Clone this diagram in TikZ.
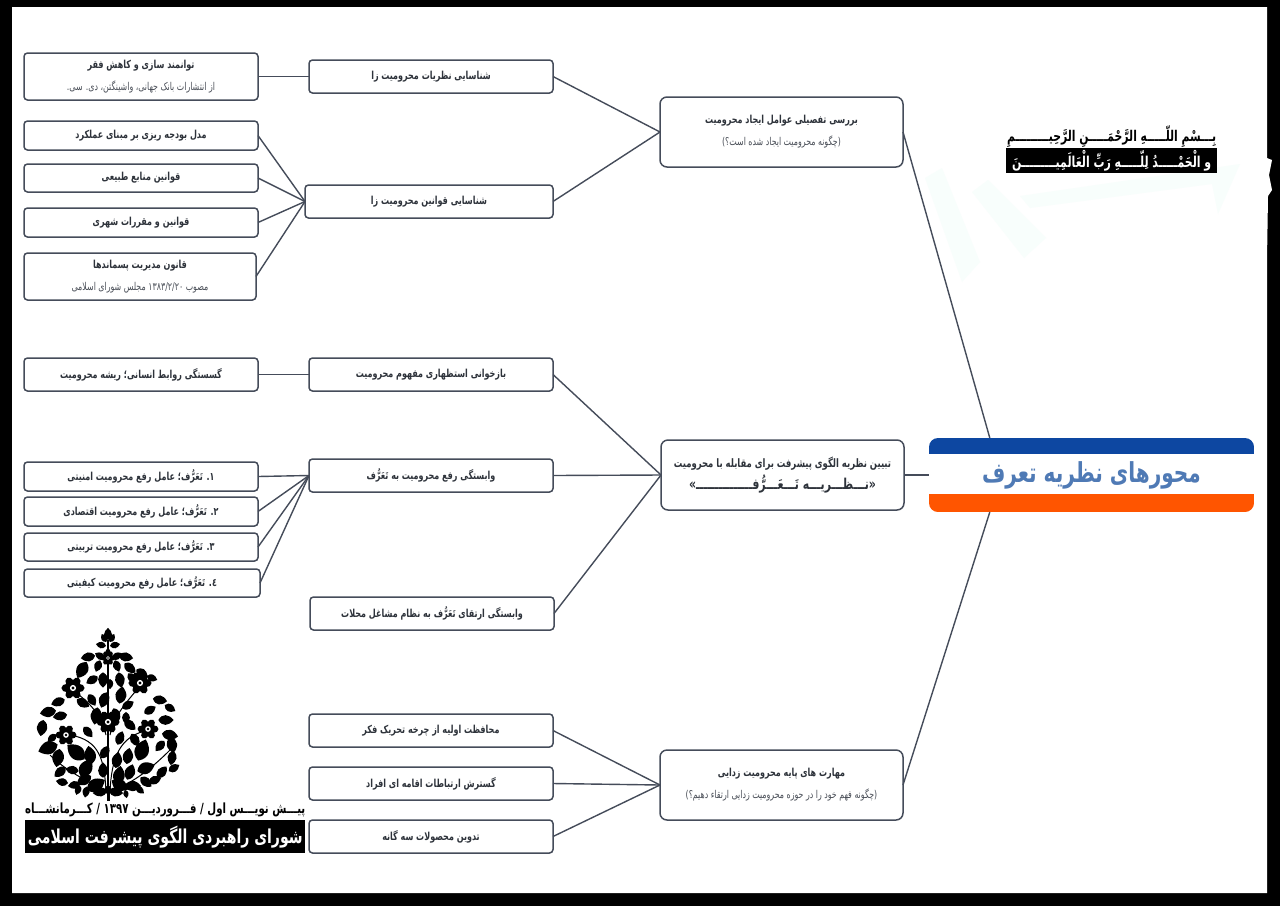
\documentclass[tikz,border=0pt]{standalone}
\usepackage{fontspec}
\usepackage{graphicx}
\setmainfont{DejaVu Sans}
\newfontfamily\fafont[Script=Arabic]{DejaVu Sans}
\TeXXeTstate=1
\newcommand\fa[1]{\scalebox{0.73}[1]{\beginR #1\endR}}
\newcommand\taf{تَعَرُّف}
\definecolor{ink}{HTML}{2E333B}
\definecolor{edgec}{HTML}{454C5A}
\definecolor{subc}{HTML}{4A4F58}
\definecolor{rootblue}{HTML}{0D47A1}
\definecolor{rootorange}{HTML}{FF5500}
\definecolor{roottext}{HTML}{4F7AB5}
\definecolor{wm}{HTML}{F8FEFC}
\newcommand\subl[1]{{\fontsize{10.8}{22}\selectfont\mdseries\color{subc}\fa{#1}}}
\tikzset{
  x=1pt,y=-1pt,
  box/.style={draw=edgec,line width=1.5pt,rounded corners=3.5pt,fill=white,inner sep=0pt,outer sep=0pt,
    font=\fafont\bfseries\fontsize{11}{22}\selectfont,text=ink,align=center,anchor=north west},
  bigbox/.style={box,rounded corners=7pt},
  link/.style={draw=edgec,line width=1.4pt},
}
\newcommand\bx[7][box]{\node[#1,minimum width=#4-#2,minimum height=#5-#3] (#6) at (#2,#3) {#7};}
\begin{document}
\begin{tikzpicture}
\useasboundingbox (0,0) rectangle (1280,906);
\fill[black] (0,0) rectangle (1280,906);
\fill[white] (12,7) -- (1267,7) -- (1267,158) -- (1272,160) -- (1269,175) -- (1272,190) -- (1268,196) -- (1267,260) -- (1267,893) -- (12,893) -- cycle;
% watermark
\fill[wm] (925,178) -- (942,168) -- (980,262) -- (962,282) -- cycle;
\fill[wm] (972,192) -- (988,180) -- (1046,238) -- (1024,258) -- cycle;
\fill[wm] (1020,196) -- (1240,164) -- (1218,214) -- (1212,184) -- (1030,208) -- cycle;

% nodes
\bx{24}{53}{258}{100}{a1}{\fa{توانمند سازی و کاهش فقر}\\\subl{از انتشارات بانک جهانی، واشینگتن، دی. سی.}}
\bx{24}{121}{258}{150}{a2}{\fa{مدل بودجه ریزی بر مبنای عملکرد}}
\bx{24}{164}{258}{192}{a3}{\fa{قوانین منابع طبیعی}}
\bx{24}{208}{258}{237}{a4}{\fa{قوانین و مقررات شهری}}
\bx{24}{253}{256}{300}{a5}{\fa{قانون مدیریت پسماندها}\\\subl{مصوب \beginL ۱۳۸۳/۲/۲۰\endL{} مجلس شورای اسلامی}}
\bx{309}{60}{553}{93}{m1}{\fa{شناسایی نظریات محرومیت زا}}
\bx{305}{185}{553}{218}{m2}{\fa{شناسایی قوانین محرومیت زا}}
\bx[bigbox]{660}{97}{903}{167}{r1}{\fa{بررسی تفصیلی عوامل ایجاد محرومیت}\\\subl{(چگونه محرومیت ایجاد شده است؟)}}
\bx{24}{358}{258}{391}{b1}{\fa{گسستگی روابط انسانی؛ ریشه محرومیت}}
\bx{309}{358}{553}{391}{m3}{\fa{بازخوانی استظهاری مفهوم محرومیت}}
\bx{24}{462}{258}{491}{b2}{\fa{۱. \taf؛ عامل رفع محرومیت امنیتی}}
\bx{24}{497}{258}{526}{b3}{\fa{۲. \taf؛ عامل رفع محرومیت اقتصادی}}
\bx{24}{533}{258}{561}{b4}{\fa{۳. \taf؛ عامل رفع محرومیت تربیتی}}
\bx{24}{569}{260}{597}{b5}{\fa{٤. \taf؛ عامل رفع محرومیت کیفیتی}}
\bx{309}{459}{553}{492}{m4}{\fa{وابستگی رفع محرومیت به \taf}}
\bx{310}{597}{554}{630}{m5}{\fa{وابستگی ارتقای \taf{} به نظام مشاغل محلات}}
\bx[bigbox]{661}{440}{904}{510}{r2}{{\fontsize{11.6}{22}\selectfont\fa{تبیین نظریه الگوی پیشرفت برای مقابله با محرومیت}}\\{\fontsize{15}{22}\selectfont\fa{«نـــظـــریـــه تَـــعَـــرُّفـــــــــــــــ»}}}
\bx{309}{714}{553}{747}{m6}{\fa{محافظت اولیه از چرخه تحریک فکر}}
\bx{309}{767}{553}{800}{m7}{\fa{گسترش ارتباطات اقامه ای افراد}}
\bx{309}{820}{553}{853}{m8}{\fa{تدوین محصولات سه گانه}}
\bx[bigbox]{660}{750}{903}{820}{r3}{\fa{مهارت های پایه محرومیت زدایی}\\\subl{(چگونه فهم خود را در حوزه محرومیت زدایی ارتقاء دهیم؟)}}
\node[draw=none,fill=white,rounded corners=9pt,inner sep=0pt,outer sep=0pt,anchor=north west,minimum width=325,minimum height=74,
  path picture={
    \fill[rootblue,sharp corners] (path picture bounding box.north west) rectangle ([yshift=-16pt]path picture bounding box.north east);
    \fill[rootorange,sharp corners] ([yshift=18pt]path picture bounding box.south west) rectangle (path picture bounding box.south east);
  },
  font=\fafont\bfseries\fontsize{27.5}{30}\selectfont,text=roottext] (root) at (929,438) {\fa{محورهای نظریه تعرف}};

% connectors
\draw[link] (a1.east) -- (m1.west);
\foreach \n in {a2,a3,a4,a5} \draw[link] (\n.east) -- (m2.west);
\draw[link] (b1.east) -- (m3.west);
\foreach \n in {b2,b3,b4,b5} \draw[link] (\n.east) -- (m4.west);
\foreach \n in {m1,m2} \draw[link] (\n.east) -- (r1.west);
\foreach \n in {m3,m4,m5} \draw[link] (\n.east) -- (r2.west);
\foreach \n in {m6,m7,m8} \draw[link] (\n.east) -- (r3.west);
\draw[link] (r1.east) -- (root.160.3);
\draw[link] (r2.east) -- (root.west);
\draw[link] (r3.east) -- (root.200.2);

% top right
\node[inner sep=0pt,minimum width=211,minimum height=23,anchor=north west,font=\fafont\bfseries\fontsize{14.8}{16}\selectfont,text=black] (bis) at (1006,125) {\fa{بِـــسْمِ اللّـــــهِ الرَّحْمَـــــنِ الرَّحِیـــــــــمِ}};
\node[fill=black,inner sep=0pt,minimum width=211,minimum height=25,anchor=north west,font=\fafont\bfseries\fontsize{15}{16}\selectfont,text=white] (ham) at (1006,148) {\fa{و الْحَمْـــــدُ لِلّـــــهِ رَبِّ الْعَالَمِیـــــــــنَ}};

% bottom left
\node[inner sep=0pt,minimum width=280,minimum height=18,anchor=north west,font=\fafont\bfseries\fontsize{14}{16}\selectfont,text=black] (draftline) at (25,801) {\fa{پیـــش نویـــس اول / فـــروردیـــن \beginL ۱۳۹۷\endL{} / کـــرمانشـــاه}};
\node[fill=black,inner sep=0pt,minimum width=280,minimum height=33,anchor=north west,font=\fafont\bfseries\fontsize{19.2}{22}\selectfont,text=white] (council) at (25,820) {\fa{شورای راهبردی الگوی پیشرفت اسلامی}};

% tree emblem
\begin{scope}
\draw[black,line width=1.6pt] (108,798) -- (108,640);
\draw[black,line width=1pt] (106,790) .. controls (104,760) and (100,740) .. (70,735);
\draw[black,line width=1pt] (110,790) .. controls (112,760) and (118,735) .. (150,730);
\draw[black,line width=1pt] (106,735) .. controls (100,710) and (85,700) .. (73,690);
\draw[black,line width=1pt] (110,735) .. controls (116,710) and (130,700) .. (140,685);
\draw[black,line width=1pt] (108,792) .. controls (85,780) and (65,770) .. (50,755);
\draw[black,line width=1pt] (108,792) .. controls (130,785) and (150,770) .. (170,750);
\foreach \x/\y/\a/\ss in {
 108/634/90/12, 104/638/120/9, 112/638/60/9, 101/645/170/10, 115/645/10/10,
 88/657/190/14, 100/656/150/11, 117/656/30/11, 126/657/350/14, 108/652/90/8,
 82/670/240/18, 98/666/250/12, 117/666/290/12, 130/668/320/14, 142/673/330/13,
 92/680/210/13, 103/680/270/15, 120/680/280/15, 110/684/270/10, 132/678/310/12, 152/678/340/11,
 58/702/200/14, 83/703/330/14, 92/700/300/13, 104/700/250/16, 121/695/80/17, 128/705/30/13, 160/700/350/14, 170/708/330/12,
 48/712/190/16, 60/716/190/14, 96/716/260/17, 116/715/290/14, 126/718/270/12, 130/725/320/14, 150/710/30/13, 166/720/0/15,
 42/728/260/16, 52/738/220/11, 88/732/310/13, 120/738/70/14, 135/740/300/14, 170/735/350/16, 172/745/280/16,
 48/748/200/20, 58/758/260/18, 76/752/140/22, 90/755/100/18, 105/752/60/14, 117/760/80/16, 128/756/80/16, 142/750/70/22, 160/746/230/13, 172/758/260/14,
 60/772/220/14, 72/770/170/13, 86/768/60/20, 103/770/90/15, 119/775/80/18, 130/772/70/16, 146/768/20/18, 162/772/50/14, 174/768/30/12,
 62/782/170/12, 74/785/190/12, 84/780/210/16, 96/785/30/20, 120/785/330/18, 133/786/0/16, 146/782/320/14, 155/780/20/13,
 78/790/250/10, 86/792/260/11, 100/792/190/14, 116/792/350/14, 126/794/280/8, 140/790/320/10, 108/790/270/10
}{
 \pgfmathsetmacro\s{\ss*1.02}
 \fill[black,shift={(\x,\y)},rotate=\a]
   (-\s/2,0) .. controls (-\s/4,\s*.45) and (\s/6,\s*.4) .. (\s/2,0)
   .. controls (\s/6,-\s*.4) and (-\s/4,-\s*.45) .. cycle;
}
\foreach \cx/\cy/\r in {73/688/11, 140/683/11, 108/722/11, 66/735/10, 148/729/10, 108/658/7}{
 \foreach \t in {0,60,...,300}{
  \fill[black,shift={(\cx,\cy)},rotate=\t] (\r*.55,0) ellipse [x radius=\r*.5,y radius=\r*.38];
 }
 \fill[white] (\cx,\cy) circle [radius=\r*.28];
 \fill[black] (\cx,\cy) circle [radius=\r*.14];
}
\fill[black] (106.5,788) rectangle (109.5,801);
\end{scope}
\end{tikzpicture}
\end{document}
